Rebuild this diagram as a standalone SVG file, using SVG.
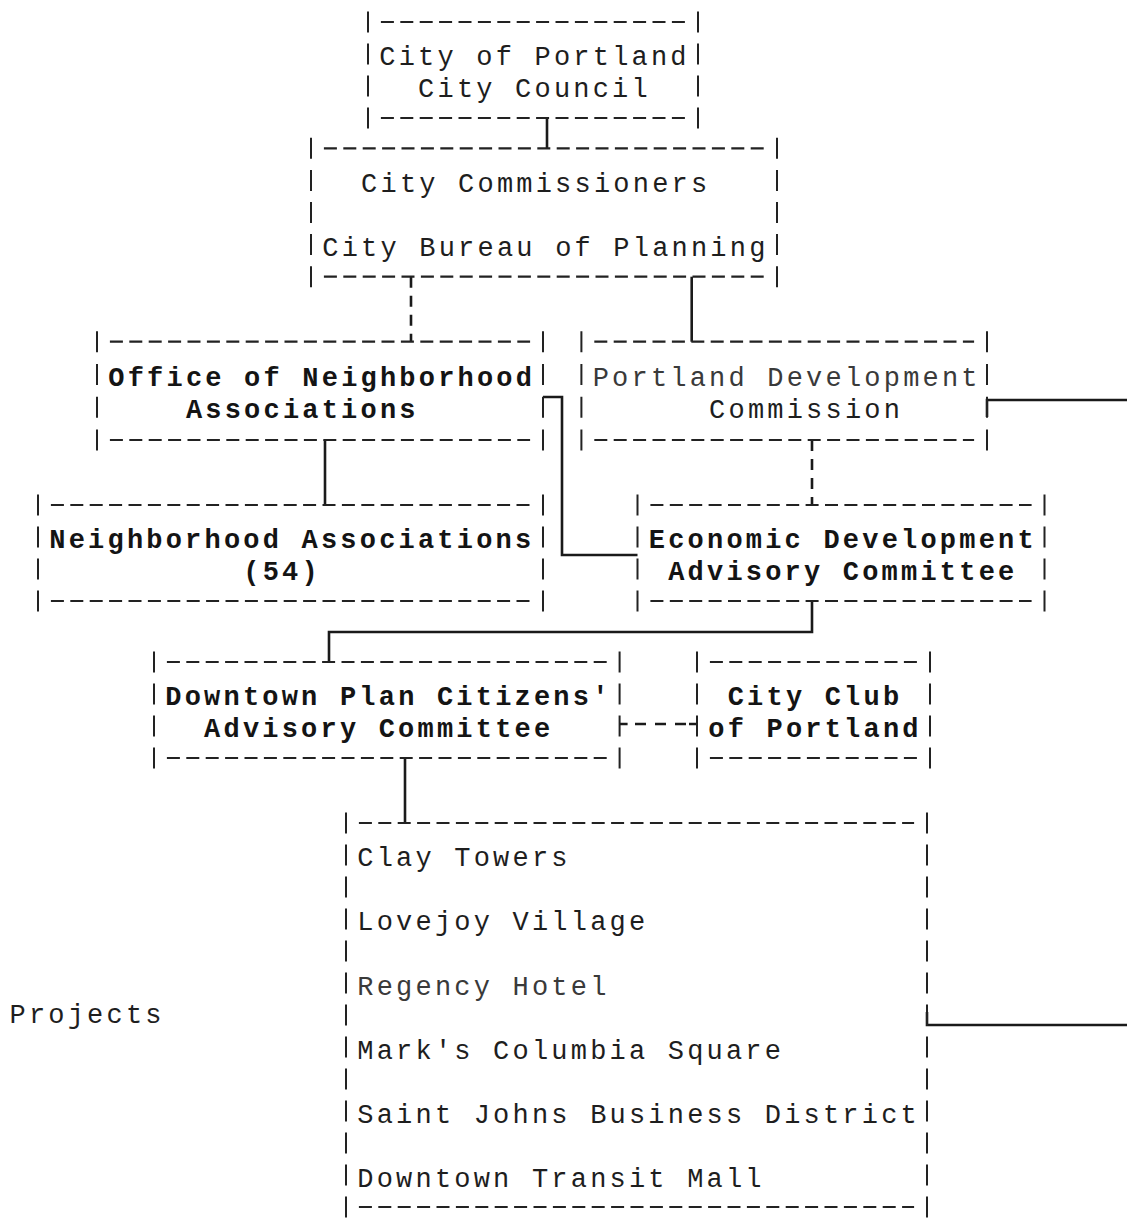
<svg xmlns="http://www.w3.org/2000/svg" width="1127" height="1218" viewBox="0 0 1127 1218">
<style>
.bg{fill:#ffffff}
.t{font-family:"Liberation Mono","DejaVu Sans Mono",monospace;font-size:27px;letter-spacing:3.2px;fill:#1e1e1e}
.b{font-weight:bold;fill:#141414}
.l{fill:#3a3a3a}
.h{stroke:#222;stroke-width:2.2;stroke-dasharray:13 6.4;fill:none}
.v{stroke:#222;stroke-width:2;fill:none}
.c{stroke:#1a1a1a;stroke-width:2.6;fill:none}
.cd{stroke-dasharray:11 8}
</style>
<rect class="bg" x="0" y="0" width="1127" height="1218"/>

<g id="connectors">
  <path class="c" d="M547,118 V148.3"/>
  <path class="c cd" d="M411,276.7 V341.7"/>
  <path class="c" d="M691.7,276.7 V341.7"/>
  <path class="c" d="M325,440 V505"/>
  <path class="c cd" d="M812,440 V505"/>
  <path class="c" d="M543,397 H562 V555 H637.5"/>
  <path class="c" d="M812,601 V632 H329 V662"/>
  <path class="c" d="M619.6,724 h8 M635,724 h11 M655,724 h11 M675,724 h11 M689,724 H697"/>
  <path class="c" d="M405,758 V823"/>
  <path class="c" d="M987,417 V400 H1140 V1025 H927 V1012"/>
</g>

<g id="city-council">
  <path class="h" d="M380.9,22 H685.1 M380.9,118 H685.1"/>
  <path class="v" stroke-dasharray="21 11" d="M368,11.5 V128.5 M698,11.5 V128.5"/>
  <text class="t" x="379.3" y="65">City of Portland</text>
  <text class="t" x="418.1" y="97">City Council</text>
</g>

<g id="city-commissioners">
  <path class="h" d="M323.9,148.3 H764.1 M323.9,276.7 H764.1"/>
  <path class="v" stroke-dasharray="21 11.1" d="M311,137.8 V287.2 M777,137.8 V287.2"/>
  <text class="t" x="361.1" y="191.5">City Commissioners</text>
  <text class="t" x="322.3" y="255.6">City Bureau of Planning</text>
</g>

<g id="office-neighborhood">
  <path class="h" d="M109.9,341.7 H530.1 M109.9,440 H530.1"/>
  <path class="v" stroke-dasharray="21 11.77" d="M97,331.2 V450.5 M543,331.2 V450.5"/>
  <text class="t b" x="108.3" y="385.5">Office of Neighborhood</text>
  <text class="t b" x="185.9" y="418.3">Associations</text>
</g>

<g id="portland-development">
  <path class="h" d="M594.3,341.7 H974.1 M594.3,440 H974.1"/>
  <path class="v" stroke-dasharray="21 11.77" d="M581.4,331.2 V450.5 M987,331.2 V450.5"/>
  <text class="t l" x="592.7" y="385.5">Portland Development</text>
  <text class="t" x="709.1" y="418.3">Commission</text>
</g>

<g id="neighborhood-associations">
  <path class="h" d="M50.9,505 H530.1 M50.9,601 H530.1"/>
  <path class="v" stroke-dasharray="21 11" d="M38,494.5 V611.5 M543,494.5 V611.5"/>
  <text class="t b" x="49.3" y="548">Neighborhood Associations</text>
  <text class="t b" x="243.3" y="580">(54)</text>
</g>

<g id="economic-development">
  <path class="h" d="M650.4,505 H1031.6 M650.4,601 H1031.6"/>
  <path class="v" stroke-dasharray="21 11" d="M637.5,494.5 V611.5 M1044.5,494.5 V611.5"/>
  <text class="t b" x="648.8" y="548">Economic Development</text>
  <text class="t b" x="668.2" y="580">Advisory Committee</text>
</g>

<g id="downtown-plan">
  <path class="h" d="M166.9,662 H606.7 M166.9,758 H606.7"/>
  <path class="v" stroke-dasharray="21 11" d="M154,651.5 V768.5 M619.6,651.5 V768.5"/>
  <text class="t b" x="165.3" y="705">Downtown Plan Citizens'</text>
  <text class="t b" x="204.1" y="737">Advisory Committee</text>
</g>

<g id="city-club">
  <path class="h" d="M709.9,662 H917.1 M709.9,758 H917.1"/>
  <path class="v" stroke-dasharray="21 11" d="M697,651.5 V768.5 M930,651.5 V768.5"/>
  <text class="t b" x="727.7" y="705">City Club</text>
  <text class="t b" x="708.3" y="737">of Portland</text>
</g>

<g id="projects-list">
  <path class="h" d="M358.9,823 H914.1 M358.9,1207 H914.1"/>
  <path class="v" stroke-dasharray="21 11" d="M346,812.5 V1217.5 M927,812.5 V1217.5"/>
  <text class="t" x="357.3" y="866">Clay Towers</text>
  <text class="t" x="357.3" y="930.3">Lovejoy Village</text>
  <text class="t l" x="357.3" y="994.5">Regency Hotel</text>
  <text class="t" x="357.3" y="1058.7">Mark's Columbia Square</text>
  <text class="t" x="357.3" y="1122.9">Saint Johns Business District</text>
  <text class="t" x="357.3" y="1187.1">Downtown Transit Mall</text>
</g>

<g id="projects-label">
  <text class="t" x="9.5" y="1023">Projects</text>
</g>
</svg>
